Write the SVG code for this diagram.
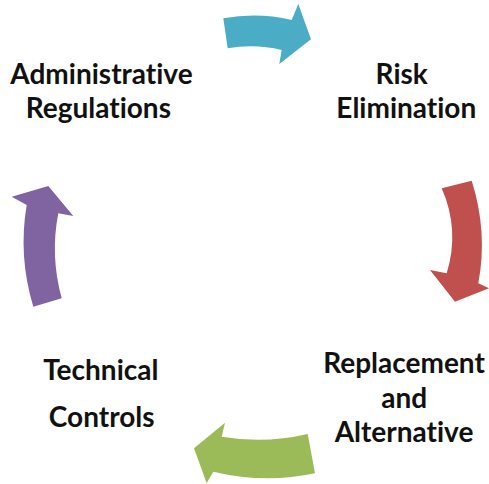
<svg xmlns="http://www.w3.org/2000/svg" width="489" height="484" viewBox="0 0 489 484">
<style>
.lbl{font-family:Lato,"Liberation Sans",Arial,sans-serif;font-weight:bold;font-size:28px;fill:#111;text-anchor:middle;font-variant-ligatures:none;font-feature-settings:"liga" 0,"dlig" 0}
</style>
<rect width="489" height="484" fill="#fff"/>
<g id="connectors">
<path id="arrow-teal" fill="#4BACC6" d="M223.3,18.3 Q258,12 291.7,20 L298.3,4 L311,39.3 L279.3,64 L281.7,50 Q255,43.5 227.7,48.3 Z"/>
<path id="arrow-red" fill="#C0504D" d="M441.7,188.3 Q460,230 446.7,273.3 L430,270 L455,301.7 L489,288.3 L478.3,283.3 Q488,232 471.7,180.7 Z"/>
<path id="arrow-green" fill="#9BBB59" d="M307.7,434 Q265,444 221.7,436.7 L225,422.7 L194,448.3 L206.7,483.3 L213.3,471.7 Q265,484 315,473.3 Z"/>
<path id="arrow-purple" fill="#8064A2" d="M33.3,306.7 Q18,256 26.7,205 L11.7,196.7 L48.3,186 L73.3,216 L58.3,213.3 Q50,256 61.7,298.3 Z"/>
</g>
<g id="node-admin">
<text class="lbl" x="101.5" y="84.3">Administrative</text>
<text class="lbl" x="98.3" y="117.7">Regulations</text>
</g>
<g id="node-risk">
<text class="lbl" x="401.7" y="84.3">Risk</text>
<text class="lbl" x="406.3" y="118.3">Elimination</text>
</g>
<g id="node-replacement">
<text class="lbl" x="404" y="373.3">Replacement</text>
<text class="lbl" x="404.2" y="408.3">and</text>
<text class="lbl" x="404" y="441.7">Alternative</text>
</g>
<g id="node-technical">
<text class="lbl" x="100.8" y="380">Technical</text>
<text class="lbl" x="101.7" y="426.7">Controls</text>
</g>
</svg>
